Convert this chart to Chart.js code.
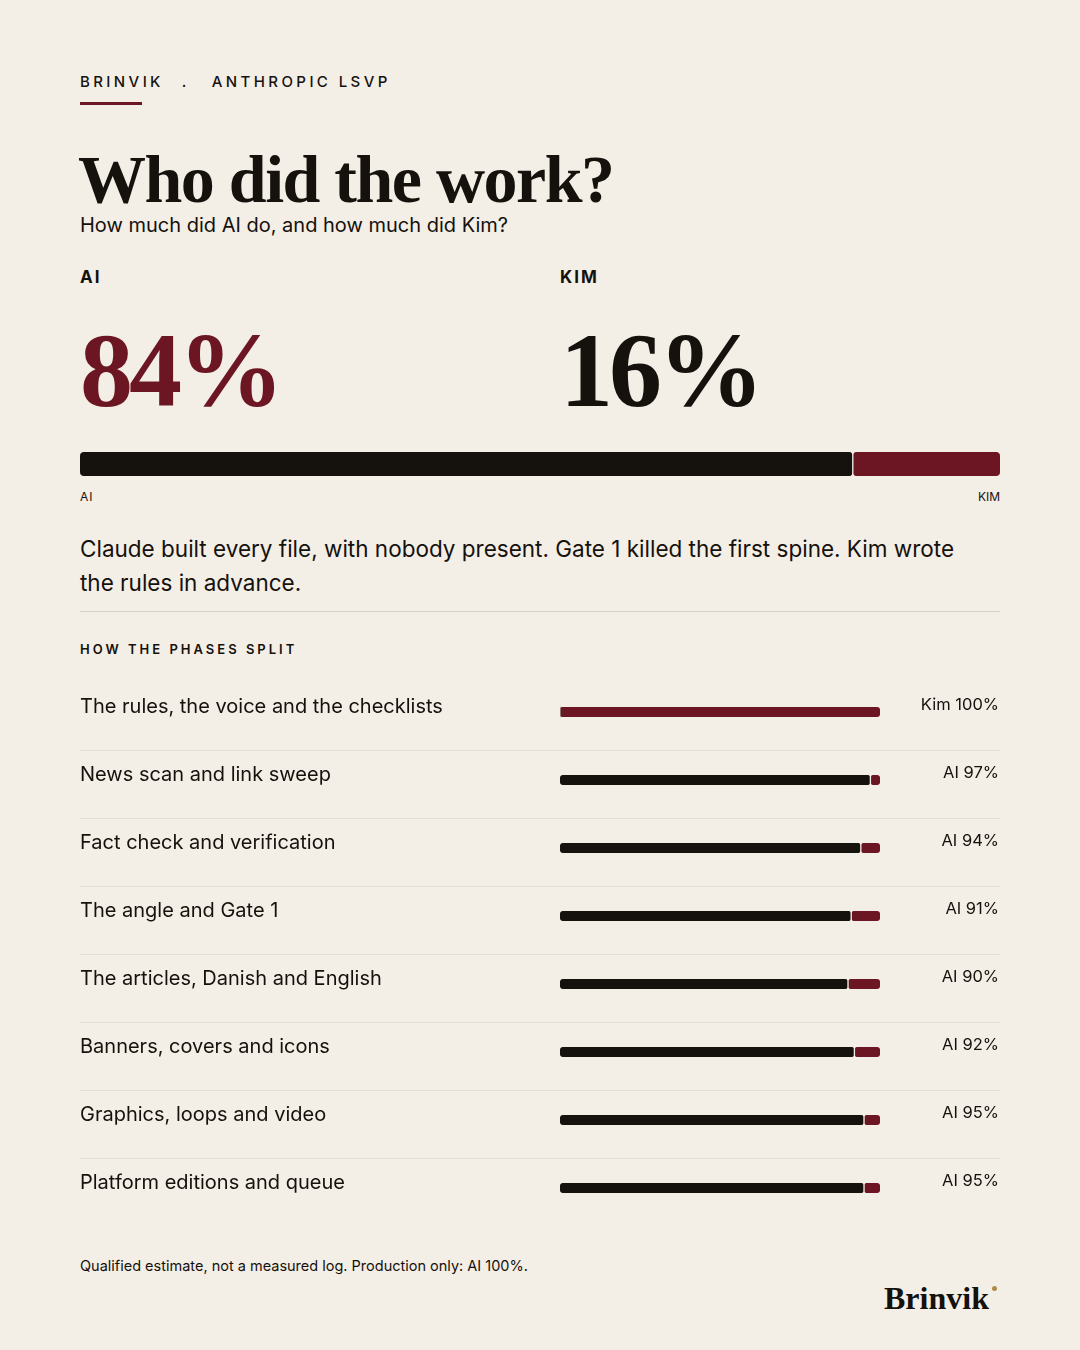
<!DOCTYPE html>
<html><head><meta charset="utf-8">
<script src="https://cdn.jsdelivr.net/npm/chart.js@4"></script>
<style>
body{margin:0;background:#f3eee6;width:1080px;height:1350px;position:relative;font-family:Inter,sans-serif;color:#15110d;overflow:hidden}
.a{position:absolute;white-space:nowrap}
.serif{font-family:"Liberation Serif","DejaVu Serif",serif;font-weight:bold}
</style></head><body>
<div class="a" style="left:80px;top:72px;font-size:15px;letter-spacing:3.4px;font-weight:500">BRINVIK<span style="margin-left:18px">.</span><span style="margin-left:22px">ANTHROPIC LSVP</span></div>
<div class="a" style="left:80px;top:102px;width:62px;height:3px;background:#6b1622"></div>
<div class="a serif" style="left:78px;top:140px;font-size:68px;letter-spacing:-1.5px">Who did the work?</div>
<div class="a" style="left:80px;top:213px;font-size:20px">How much did AI do, and how much did Kim?</div>
<div class="a" style="left:80px;top:267px;font-size:17px;font-weight:700;letter-spacing:2px">AI</div>
<div class="a" style="left:560px;top:267px;font-size:17px;font-weight:700;letter-spacing:2px">KIM</div>
<div class="a serif" style="left:80px;top:310px;font-size:106px;color:#6b1622;letter-spacing:-4px">84%</div>
<div class="a serif" style="left:560px;top:310px;font-size:106px;letter-spacing:-4px">16%</div>
<canvas id="top" class="a" style="left:80px;top:448px" width="920" height="32"></canvas>
<div class="a" style="left:80px;top:489px;font-size:12px;letter-spacing:1px">AI</div>
<div class="a" style="right:80px;top:489px;font-size:12px">KIM</div>
<div class="a" style="left:80px;top:532px;font-size:22.5px;line-height:34px;white-space:normal;width:900px">Claude built every file, with nobody present. Gate 1 killed the first spine. Kim wrote the rules in advance.</div>
<div class="a" style="left:80px;top:611px;width:920px;height:1px;background:#d6d0c7"></div>
<div class="a" style="left:80px;top:641px;font-size:13px;font-weight:600;letter-spacing:3px">HOW THE PHASES SPLIT</div>
<canvas id="ph" class="a" style="left:80px;top:678px" width="920" height="544"></canvas>
<div class="a" style="left:80px;top:1257px;font-size:14.5px">Qualified estimate, not a measured log. Production only: AI 100%.</div>
<div class="a serif" style="left:884px;top:1280px;font-size:32px">Brinvik</div>
<div class="a" style="left:992px;top:1286px;width:5px;height:5px;border-radius:50%;background:#b08a4a"></div>
<script>
const DARK='#15110d', RED='#6b1622', BG='#f3eee6';
const totalLabels=['AI','Kim'];
const totalValues=[84,16];
const phases=['The rules, the voice and the checklists','News scan and link sweep','Fact check and verification','The angle and Gate 1','The articles, Danish and English','Banners, covers and icons','Graphics, loops and video','Platform editions and queue'];
const aiShare=[0,97,94,91,90,92,95,95];
const kimShare=[100,3,6,9,10,8,5,5];
const valueLabels=['Kim 100%','AI 97%','AI 94%','AI 91%','AI 90%','AI 92%','AI 95%','AI 95%'];

const hidden={display:false};
const rad={topLeft:4,topRight:4,bottomLeft:4,bottomRight:4};
new Chart(document.getElementById('top'),{type:'bar',
 data:{labels:[''],datasets:[
  {label:totalLabels[0],data:[totalValues[0]],backgroundColor:DARK,borderColor:BG,borderWidth:{right:1},borderRadius:rad,borderSkipped:false,barThickness:24,stack:'s'},
  {label:totalLabels[1],data:[totalValues[1]],backgroundColor:RED,borderColor:BG,borderWidth:{left:1},borderRadius:rad,borderSkipped:false,barThickness:24,stack:'s'}]},
 options:{indexAxis:'y',responsive:false,animation:false,layout:{padding:0},
  plugins:{legend:hidden,tooltip:{enabled:false}},
  scales:{x:{display:false,stacked:true,min:0,max:100},y:{display:false,stacked:true}}}});

const rowText={id:'rowText',afterDraw(c){
 const ctx=c.ctx,y=c.scales.y,w=c.width;
 ctx.save();
 phases.forEach((p,i)=>{
  const cy=y.getPixelForValue(i);
  ctx.fillStyle=DARK;ctx.textBaseline='middle';
  ctx.font='20px Inter';ctx.textAlign='left';ctx.fillText(p,0,cy-5);
  ctx.font='16.5px Inter';ctx.textAlign='right';ctx.fillText(valueLabels[i],w-1,cy-7);
  if(i<phases.length-1){ctx.fillStyle='#e4ded5';ctx.fillRect(0,Math.round(cy+38),w,1);}
 });
 ctx.restore();}};
const r3={topLeft:3,topRight:3,bottomLeft:3,bottomRight:3};
new Chart(document.getElementById('ph'),{type:'bar',
 data:{labels:phases,datasets:[
  {label:'AI',data:aiShare,backgroundColor:DARK,borderColor:BG,borderWidth:{right:1},borderRadius:r3,borderSkipped:false,barThickness:10,stack:'s'},
  {label:'Kim',data:kimShare,backgroundColor:RED,borderColor:BG,borderWidth:{left:1},borderRadius:r3,borderSkipped:false,barThickness:10,stack:'s'}]},
 options:{indexAxis:'y',responsive:false,animation:false,layout:{padding:{left:480,right:120,top:0,bottom:0}},
  plugins:{legend:hidden,tooltip:{enabled:false}},
  scales:{x:{display:false,stacked:true,min:0,max:100},y:{display:false,stacked:true}}},
 plugins:[rowText]});
</script></body></html>
